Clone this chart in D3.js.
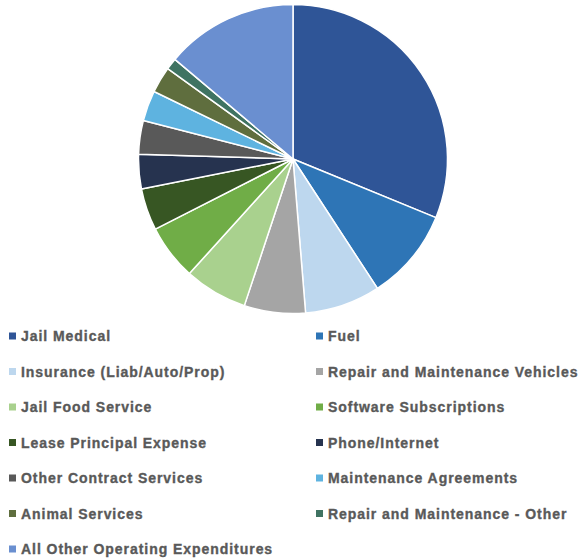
<!DOCTYPE html>
<html>
<head>
<meta charset="utf-8">
<script src="https://cdn.jsdelivr.net/npm/d3@7"></script>
<style>
  html, body { margin: 0; padding: 0; background: #ffffff; }
  svg { display: block; }
</style>
</head>
<body>
<svg id="chart" width="580" height="559"></svg>
<script>
// Operating expenditure categories and their share of the total (%)
const categories = [
  "Jail Medical",
  "Fuel",
  "Insurance (Liab/Auto/Prop)",
  "Repair and Maintenance Vehicles",
  "Jail Food Service",
  "Software Subscriptions",
  "Lease Principal Expense",
  "Phone/Internet",
  "Other Contract Services",
  "Maintenance Agreements",
  "Animal Services",
  "Repair and Maintenance - Other",
  "All Other Operating Expenditures"
];
const shares = [31.2, 9.6, 7.9, 6.4, 6.6, 5.8, 4.4, 3.6, 3.5, 3.2, 2.75, 1.2, 13.85];
const colors = [
  "#2f5597", "#2e75b6", "#bdd7ee", "#a5a5a5", "#a9d18e", "#70ad47",
  "#375623", "#26334f", "#595959", "#5eb3e0", "#5f6e3e", "#3f7362", "#6a8fd0"
];

const data = categories.map((name, i) => ({ name, value: shares[i], color: colors[i] }));

const svg = d3.select("#chart");
const cx = 293, cy = 159, radius = 154.5;

const pie = d3.pie().sort(null).value(d => d.value);
const arc = d3.arc().innerRadius(0).outerRadius(radius);

svg.append("g")
  .attr("transform", `translate(${cx},${cy})`)
  .selectAll("path")
  .data(pie(data))
  .join("path")
  .attr("d", arc)
  .attr("fill", d => d.data.color)
  .attr("stroke", "#ffffff")
  .attr("stroke-width", 1.5)
  .attr("stroke-linejoin", "round");

// Legend: two columns, rows filled left to right
const colX = [9, 316];
const rowY = d3.scaleLinear().domain([0, 6]).range([336, 549]);

const legend = svg.append("g").selectAll("g")
  .data(data)
  .join("g")
  .attr("transform", (d, i) => `translate(${colX[i % 2]},${rowY(Math.floor(i / 2))})`);

legend.append("rect")
  .attr("x", 0).attr("y", -3.5)
  .attr("width", 7).attr("height", 7)
  .attr("fill", d => d.color);

legend.append("text")
  .attr("x", 12)
  .attr("dy", "0.36em")
  .attr("font-family", "Liberation Sans, Arial, sans-serif")
  .attr("font-weight", "bold")
  .attr("font-size", 14)
  .attr("letter-spacing", 0.95)
  .attr("fill", "#595959")
  .attr("stroke", "#595959")
  .attr("stroke-width", 0.35)
  .text(d => d.name);
</script>
</body>
</html>
